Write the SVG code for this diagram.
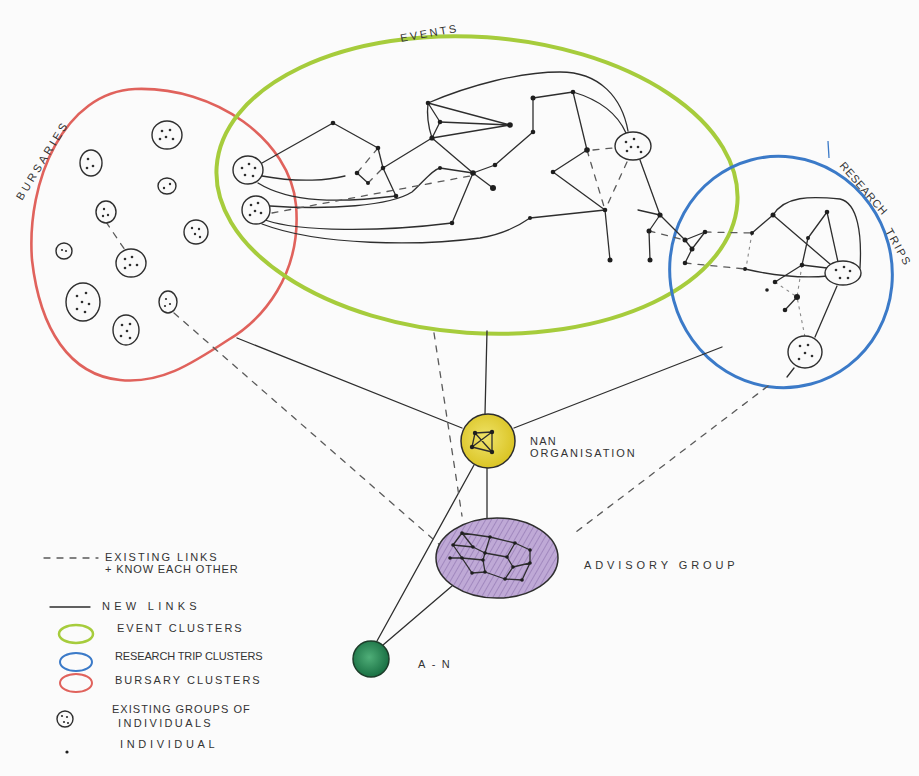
<svg xmlns="http://www.w3.org/2000/svg" width="919" height="776" viewBox="0 0 919 776">
<style>
.ln{fill:none;stroke:#2e2e2e;stroke-width:1.3;stroke-linecap:round;stroke-linejoin:round}
.dl{fill:none;stroke:#5a5a5a;stroke-width:1.3;stroke-dasharray:6 7;stroke-linecap:round}
.dt{fill:none;stroke:#8a8a8a;stroke-width:1.1;stroke-dasharray:3 4}
.cell{fill:#fafafa;stroke:#2e2e2e;stroke-width:1.4}
.nd{fill:#1e1e1e}
.sd{fill:#2e2e2e}
.t{font-family:"Liberation Sans",Arial,sans-serif;font-size:11px;fill:#333;letter-spacing:0.3px}
.red{fill:none;stroke:#e0625c;stroke-width:2.6}
.grn{fill:none;stroke:#a6cc3c;stroke-width:4}
.blu{fill:none;stroke:#3b7ac8;stroke-width:3}
</style>
<defs>
<pattern id="hatch" width="5" height="5" patternUnits="userSpaceOnUse" patternTransform="rotate(30)">
<rect width="5" height="5" fill="#bfa9d6"/>
<line x1="0" y1="0" x2="0" y2="5" stroke="#9a80b8" stroke-width="1.6"/>
</pattern>
<radialGradient id="yel" cx="0.45" cy="0.45" r="0.6">
<stop offset="0" stop-color="#efe36a"/><stop offset="1" stop-color="#d9c21f"/>
</radialGradient>
<radialGradient id="gr" cx="0.45" cy="0.45" r="0.6">
<stop offset="0" stop-color="#4fae78"/><stop offset="1" stop-color="#156b3f"/>
</radialGradient>
</defs>
<rect width="919" height="776" fill="#fbfbfb"/>

<!-- clusters -->
<g id="bursaries">
<path class="red" d="M135,89 C215,86 290,140 296,205 C302,275 262,320 228,340 C190,365 160,384 120,380 C70,375 40,330 32,260 C26,180 65,92 135,89 Z"/>
<text class="t" transform="translate(22,201) rotate(-58.6)" textLength="88" font-size="12">BURSARIES</text>
</g>
<g id="events">
<ellipse class="grn" cx="477" cy="185" rx="261" ry="148" transform="rotate(4 477 185)"/>
<text class="t" transform="translate(401,42) rotate(-10)" textLength="57" font-size="12">EVENTS</text>
</g>
<g id="research-trips">
<ellipse class="blu" cx="781" cy="272" rx="111" ry="116" transform="rotate(-15 781 272)"/>
<line x1="828" y1="141" x2="829" y2="158" stroke="#3b7ac8" stroke-width="1.3"/>
<text class="t" transform="translate(839,166) rotate(49)" textLength="66" font-size="11">RESEARCH</text>
<text class="t" transform="translate(885,231) rotate(61)" textLength="40" font-size="11">TRIPS</text>
</g>

<!-- connectors -->
<g id="connectors">
<!-- events network -->
<path class="ln" d="M262,163 L333,123 L378,148 L383,168 L396,196"/>
<path class="ln" d="M383,168 L432,138"/>
<path class="ln" d="M432,138 Q426,120 428,103 L440,122 L432,138"/>
<path class="ln" d="M428,103 L510,125 L440,122 M432,138 L510,125"/>
<path class="ln" d="M428,103 C470,85 520,72 560,72 C600,72 622,98 628,131"/>
<path class="ln" d="M432,138 L473,173 L493,188"/>
<path class="ln" d="M473,173 L495,165 L533,132 L533,98 L573,92 L587,150"/>
<path class="ln" d="M573,92 C600,100 618,115 626,133"/>
<path class="ln" d="M587,150 L553,172 L605,210 L610,260"/>
<path class="ln" d="M530,218 L605,210"/>
<path class="ln" d="M640,160 L660,215 L685,240"/>
<path class="ln" d="M660,215 L638,210 M660,215 L649,231 L650,260"/>
<path class="ln" d="M685,240 L705,232 L692,249 L685,240 M692,249 L685,263"/>
<path class="ln" d="M262,176 C300,183 330,180 345,176"/>
<path class="ln" d="M258,183 C290,203 340,203 396,196"/>
<path class="ln" d="M270,206 C330,210 390,206 412,192 C425,180 432,170 440,168 L473,173"/>
<path class="ln" d="M265,220 C300,232 380,232 452,223 L473,173"/>
<path class="ln" d="M262,224 C320,246 420,246 480,238 C505,234 520,225 530,218"/>
<path class="dl" d="M272,213 L470,176"/>
<path class="dl" d="M378,148 L357,173 M368,183 L383,168"/>
<path class="ln" d="M357,173 L368,183"/>
<path class="dl" d="M593,150 L613,148 M587,150 L605,210 M627,162 L605,210"/>
<path class="dl" d="M649,231 L685,240 M705,232 L752,233 M685,263 L745,269"/>
<path class="dt" d="M752,233 L746,268"/>
<!-- research network -->
<path class="ln" d="M752,233 L773,215"/>
<path class="ln" d="M773,215 C785,196 810,196 840,199 C858,203 862,235 860,268"/>
<path class="ln" d="M773,215 L830,264"/>
<path class="ln" d="M827,212 L808,238 L802,265 L827,268 M827,212 L838,262"/>
<path class="ln" d="M745,269 C780,277 808,278 828,276"/>
<path class="ln" d="M802,265 L775,282"/>
<path class="dt" d="M802,265 L797,297 L805,337 M775,282 L797,297"/>
<path class="ln" d="M797,297 L785,310"/>
<path class="ln" d="M837,286 L815,337 M794,368 L787,377"/>
<!-- main links -->
<path class="ln" d="M462,428 L237,338"/>
<path class="ln" d="M485,414 L487,331"/>
<path class="ln" d="M514,428 L722,347"/>
<path class="ln" d="M487,468 L487,518"/>
<path class="ln" d="M474,465 L377,641"/>
<path class="ln" d="M452,586 L383,645"/>
<path class="dl" d="M174,313 L441,546"/>
<path class="dl" d="M434,333 L462,516"/>
<path class="dl" d="M768,386 L572,535"/>
<path class="dl" d="M106,222 L125,250"/>
</g>

<!-- bursary cells -->
<g id="bursary-cells">
<g id="b1"><ellipse class="cell" cx="167" cy="135" rx="15" ry="14"/><circle class="sd" cx="162" cy="131" r="1.3"/><circle class="sd" cx="170" cy="130" r="1.3"/><circle class="sd" cx="166" cy="137" r="1.3"/><circle class="sd" cx="173" cy="139" r="1.3"/><circle class="sd" cx="160" cy="139" r="1.3"/></g>
<g id="b2"><ellipse class="cell" cx="91" cy="163" rx="11" ry="13"/><circle class="sd" cx="88" cy="159" r="1.3"/><circle class="sd" cx="93" cy="166" r="1.3"/><circle class="sd" cx="87" cy="168" r="1.3"/></g>
<g id="b3"><ellipse class="cell" cx="167" cy="186" rx="9" ry="8"/><circle class="sd" cx="164" cy="188" r="1.2"/><circle class="sd" cx="170" cy="184" r="1.2"/></g>
<g id="b4"><ellipse class="cell" cx="106" cy="212" rx="10" ry="11"/><circle class="sd" cx="104" cy="209" r="1.2"/><circle class="sd" cx="108" cy="215" r="1.2"/><circle class="sd" cx="103" cy="216" r="1.2"/></g>
<g id="b5"><ellipse class="cell" cx="196" cy="232" rx="12" ry="12"/><circle class="sd" cx="192" cy="228" r="1.2"/><circle class="sd" cx="199" cy="229" r="1.2"/><circle class="sd" cx="195" cy="234" r="1.2"/><circle class="sd" cx="200" cy="237" r="1.2"/></g>
<g id="b6"><ellipse class="cell" cx="64" cy="251" rx="8" ry="8"/><circle class="sd" cx="62" cy="250" r="1.1"/><circle class="sd" cx="66" cy="251" r="1.1"/></g>
<g id="b7"><ellipse class="cell" cx="131" cy="263" rx="15" ry="14"/><circle class="sd" cx="125" cy="259" r="1.3"/><circle class="sd" cx="132" cy="257" r="1.3"/><circle class="sd" cx="130" cy="265" r="1.3"/><circle class="sd" cx="137" cy="265" r="1.3"/><circle class="sd" cx="125" cy="268" r="1.3"/></g>
<g id="b8"><ellipse class="cell" cx="83" cy="302" rx="17" ry="19"/><circle class="sd" cx="77" cy="296" r="1.3"/><circle class="sd" cx="86" cy="293" r="1.3"/><circle class="sd" cx="82" cy="302" r="1.3"/><circle class="sd" cx="89" cy="304" r="1.3"/><circle class="sd" cx="77" cy="309" r="1.3"/><circle class="sd" cx="85" cy="312" r="1.3"/></g>
<g id="b9"><ellipse class="cell" cx="168" cy="302" rx="9" ry="11"/><circle class="sd" cx="166" cy="299" r="1.1"/><circle class="sd" cx="170" cy="304" r="1.1"/><circle class="sd" cx="165" cy="306" r="1.1"/></g>
<g id="b10"><ellipse class="cell" cx="126" cy="330" rx="13" ry="15"/><circle class="sd" cx="122" cy="325" r="1.3"/><circle class="sd" cx="130" cy="324" r="1.3"/><circle class="sd" cx="127" cy="331" r="1.3"/><circle class="sd" cx="121" cy="336" r="1.3"/><circle class="sd" cx="130" cy="338" r="1.3"/></g>
</g>

<!-- event / research cells -->
<g id="event-cells">
<g id="c1"><ellipse class="cell" cx="248" cy="170" rx="15" ry="14"/><circle class="sd" cx="242" cy="168" r="1.3"/><circle class="sd" cx="249" cy="164" r="1.3"/><circle class="sd" cx="255" cy="168" r="1.3"/><circle class="sd" cx="245" cy="175" r="1.3"/><circle class="sd" cx="253" cy="176" r="1.3"/></g>
<g id="c2"><ellipse class="cell" cx="256" cy="210" rx="14" ry="14"/><circle class="sd" cx="251" cy="205" r="1.3"/><circle class="sd" cx="258" cy="203" r="1.3"/><circle class="sd" cx="255" cy="211" r="1.3"/><circle class="sd" cx="261" cy="213" r="1.3"/><circle class="sd" cx="250" cy="215" r="1.3"/></g>
<g id="c3"><ellipse class="cell" cx="633" cy="146" rx="18" ry="14"/><circle class="sd" cx="626" cy="142" r="1.3"/><circle class="sd" cx="634" cy="139" r="1.3"/><circle class="sd" cx="631" cy="147" r="1.3"/><circle class="sd" cx="638" cy="147" r="1.3"/><circle class="sd" cx="627" cy="151" r="1.3"/><circle class="sd" cx="641" cy="152" r="1.3"/></g>
<g id="c4"><ellipse class="cell" cx="843" cy="273" rx="18" ry="12"/><circle class="sd" cx="836" cy="270" r="1.3"/><circle class="sd" cx="844" cy="267" r="1.3"/><circle class="sd" cx="850" cy="271" r="1.3"/><circle class="sd" cx="840" cy="278" r="1.3"/><circle class="sd" cx="848" cy="278" r="1.3"/></g>
<g id="c5"><ellipse class="cell" cx="805" cy="352" rx="17" ry="16"/><circle class="sd" cx="800" cy="346" r="1.3"/><circle class="sd" cx="808" cy="345" r="1.3"/><circle class="sd" cx="805" cy="353" r="1.3"/><circle class="sd" cx="812" cy="356" r="1.3"/><circle class="sd" cx="799" cy="359" r="1.3"/></g>
</g>

<!-- individuals -->
<g id="individuals" class="nd">
<circle cx="333" cy="123" r="2.3"/><circle cx="378" cy="148" r="2.3"/><circle cx="383" cy="168" r="2.3"/><circle cx="357" cy="173" r="2.3"/><circle cx="368" cy="183" r="2"/><circle cx="396" cy="196" r="2.3"/>
<circle cx="428" cy="103" r="2.3"/><circle cx="440" cy="122" r="2.3"/><circle cx="510" cy="125" r="2.8"/><circle cx="432" cy="138" r="2.6"/><circle cx="473" cy="173" r="2.8"/><circle cx="493" cy="188" r="3"/><circle cx="440" cy="168" r="2"/><circle cx="495" cy="165" r="2.3"/><circle cx="533" cy="132" r="2.3"/><circle cx="533" cy="98" r="2.5"/><circle cx="452" cy="223" r="2.3"/><circle cx="530" cy="218" r="2"/>
<circle cx="573" cy="92" r="2.3"/><circle cx="587" cy="150" r="2.8"/><circle cx="553" cy="172" r="2.3"/><circle cx="605" cy="210" r="2.3"/><circle cx="610" cy="260" r="2.5"/>
<circle cx="660" cy="215" r="2.6"/><circle cx="649" cy="231" r="2.5"/><circle cx="650" cy="260" r="2.5"/><circle cx="685" cy="240" r="2.5"/><circle cx="705" cy="232" r="2.3"/><circle cx="692" cy="249" r="2.5"/><circle cx="685" cy="263" r="2.3"/>
<circle cx="752" cy="233" r="2"/><circle cx="745" cy="269" r="2"/><circle cx="773" cy="215" r="2.5"/><circle cx="827" cy="212" r="2.3"/><circle cx="808" cy="238" r="2"/><circle cx="802" cy="265" r="2.3"/><circle cx="775" cy="282" r="2.3"/><circle cx="767" cy="290" r="1.8"/><circle cx="797" cy="297" r="3"/><circle cx="785" cy="310" r="2.3"/>
</g>

<!-- hubs -->
<g id="nan-organisation">
<circle cx="488" cy="441" r="27" fill="url(#yel)" stroke="#2e2e2e" stroke-width="1.5"/>
<path class="ln" d="M475,433 L492,432 L492,452 L472,447 Z M475,433 L492,452 M492,432 L472,447"/>
<g class="nd"><circle cx="475" cy="433" r="2.2"/><circle cx="492" cy="432" r="2.2"/><circle cx="472" cy="447" r="2.2"/><circle cx="492" cy="452" r="2.2"/></g>
<text class="t" x="530" y="445" textLength="26" font-size="11">NAN</text>
<text class="t" x="530" y="457" textLength="105" font-size="11">ORGANISATION</text>
</g>
<g id="advisory-group">
<ellipse cx="497" cy="558" rx="61" ry="40" fill="url(#hatch)" stroke="#2e2e2e" stroke-width="1.5"/>
<path class="ln" stroke-width="1" d="M462,533 L490,537 L515,543 L530,550 L530,563 M462,533 L453,545 L473,547 L462,533 M490,537 L485,553 L473,547 M485,553 L507,557 L515,543 M450,558 L462,558 L453,545 M462,558 L483,560 L485,553 M483,560 L485,572 L472,573 L462,558 M485,572 L505,579 L522,580 L530,563 M507,557 L513,567 L505,579 M513,567 L530,563"/>
<g class="nd"><circle cx="462" cy="533" r="1.8"/><circle cx="490" cy="537" r="1.8"/><circle cx="515" cy="543" r="1.8"/><circle cx="530" cy="550" r="1.8"/><circle cx="453" cy="545" r="1.8"/><circle cx="473" cy="547" r="1.8"/><circle cx="485" cy="553" r="1.8"/><circle cx="507" cy="557" r="1.8"/><circle cx="462" cy="558" r="1.8"/><circle cx="450" cy="558" r="1.8"/><circle cx="483" cy="560" r="1.8"/><circle cx="530" cy="563" r="1.8"/><circle cx="472" cy="573" r="1.8"/><circle cx="485" cy="572" r="1.8"/><circle cx="505" cy="579" r="1.8"/><circle cx="522" cy="580" r="1.8"/><circle cx="513" cy="567" r="1.8"/></g>
<text class="t" x="584" y="569" textLength="151" font-size="12">ADVISORY GROUP</text>
</g>
<g id="a-n">
<circle cx="371" cy="659" r="18" fill="url(#gr)" stroke="#1d3d2a" stroke-width="1.5"/>
<text class="t" x="418" y="668" textLength="32" font-size="12">A-N</text>
</g>

<!-- legend -->
<g id="legend">
<line class="dl" x1="44" y1="558" x2="98" y2="558" stroke-dasharray="5 5"/>
<text class="t" x="105" y="561" textLength="112" font-size="10">EXISTING LINKS</text>
<text class="t" x="105" y="573" textLength="133" font-size="10">+ KNOW EACH OTHER</text>
<line class="ln" x1="50" y1="607" x2="90" y2="607"/>
<text class="t" x="102" y="610" textLength="95" font-size="10">NEW LINKS</text>
<ellipse cx="76" cy="634" rx="17" ry="9" fill="none" stroke="#a6cc3c" stroke-width="2.5"/>
<text class="t" x="117" y="632" textLength="125" font-size="10">EVENT CLUSTERS</text>
<ellipse cx="76" cy="662" rx="16" ry="9" fill="none" stroke="#3b7ac8" stroke-width="2"/>
<text class="t" x="115" y="660" textLength="148" font-size="10">RESEARCH TRIP CLUSTERS</text>
<ellipse cx="76" cy="683" rx="16" ry="9" fill="none" stroke="#e0625c" stroke-width="2"/>
<text class="t" x="115" y="684" textLength="145" font-size="10">BURSARY CLUSTERS</text>
<circle class="cell" cx="65" cy="719" r="8"/><circle class="sd" cx="62" cy="716" r="1.1"/><circle class="sd" cx="67" cy="717" r="1.1"/><circle class="sd" cx="64" cy="722" r="1.1"/><circle class="sd" cx="68" cy="723" r="1.1"/>
<text class="t" x="112" y="713" textLength="138" font-size="10">EXISTING GROUPS OF</text>
<text class="t" x="118" y="727" textLength="93" font-size="10">INDIVIDUALS</text>
<circle class="nd" cx="67" cy="752" r="1.6"/>
<text class="t" x="120" y="748" textLength="95" font-size="10">INDIVIDUAL</text>
</g>
</svg>
